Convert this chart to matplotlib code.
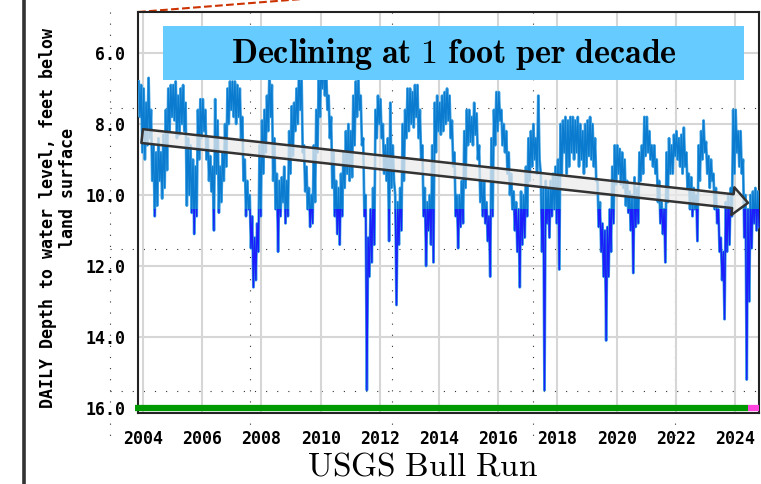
import matplotlib
matplotlib.use("Agg")
import matplotlib.pyplot as plt
import numpy as np
from matplotlib.patches import Rectangle, FancyArrowPatch

plt.rcParams["mathtext.fontset"] = "cm"
plt.rcParams["font.family"] = ["DejaVu Sans Mono"]
plt.rcParams["font.weight"] = "bold"

# depth to water (ft below land surface): shallowest / deepest reading in each month
hi_2003 = [6.8, 6.9]  # Nov-Dec only
lo_2003 = [7.8, 8.8]
hi_2004 = [7.0, 7.4, 6.7, 7.6, 8.6, 8.8, 8.4, 8.8, 8.3, 7.6, 7.0, 6.9]
lo_2004 = [9.0, 8.6, 8.4, 9.6, 10.6, 10.3, 9.6, 10.1, 9.8, 9.3, 8.2, 7.8]
hi_2005 = [6.9, 6.8, 7.2, 7.0, 6.9, 7.4, 8.4, 8.6, 9.0, 9.2, 7.6, 7.3]
lo_2005 = [7.9, 8.4, 8.3, 8.0, 8.2, 10.3, 10.0, 10.5, 11.1, 10.6, 9.0, 8.4]
hi_2006 = [7.3, 7.6, 8.4, 8.9, 9.2, 7.3, 7.9, 9.2, 8.8, 8.0, 7.0, 6.8]
lo_2006 = [8.2, 9.0, 9.6, 9.9, 11.0, 9.4, 10.5, 10.2, 9.6, 9.2, 8.0, 7.6]
hi_2007 = [6.8, 6.8, 6.9, 7.0, 7.8, 9.0, 9.6, 10.0, 10.6, 11.2, 10.8, 8.6]
lo_2007 = [7.8, 8.0, 7.8, 8.4, 9.6, 10.6, 10.4, 11.5, 12.6, 12.4, 11.6, 10.6]
hi_2008 = [7.9, 7.6, 7.2, 6.5, 6.9, 8.4, 9.4, 9.6, 9.5, 9.2, 9.6, 8.2]
lo_2008 = [9.4, 8.8, 8.2, 7.8, 9.6, 10.4, 11.6, 10.6, 10.2, 10.8, 10.6, 9.4]
hi_2009 = [7.5, 7.4, 7.0, 6.4, 6.6, 8.6, 9.2, 9.8, 10.0, 8.6, 7.6, 6.6]
lo_2009 = [8.9, 8.2, 8.0, 7.6, 8.8, 9.9, 10.4, 10.9, 10.8, 10.2, 8.8, 7.8]
hi_2010 = [6.2, 6.2, 6.5, 7.2, 7.8, 8.8, 9.6, 9.8, 9.4, 8.8, 8.2, 8.0]
lo_2010 = [7.0, 7.2, 7.6, 8.4, 9.8, 10.6, 11.1, 11.4, 10.6, 9.8, 9.4, 9.6]
hi_2011 = [8.2, 7.2, 6.8, 6.7, 7.2, 8.4, 10.0, 11.2, 10.4, 9.8, 7.6, 7.2]
lo_2011 = [9.5, 8.6, 7.8, 7.6, 8.6, 10.6, 15.5, 12.3, 11.9, 11.4, 8.4, 8.0]
hi_2012 = [7.3, 8.0, 8.6, 8.4, 7.4, 8.6, 10.0, 10.2, 9.8, 8.0, 7.6, 7.0]
lo_2012 = [8.4, 9.4, 9.6, 11.3, 9.8, 9.6, 13.1, 11.4, 11.0, 9.6, 8.4, 8.2]
hi_2013 = [7.0, 7.1, 6.9, 6.9, 7.6, 8.6, 9.8, 10.2, 10.0, 8.6, 7.4, 7.2]
lo_2013 = [8.0, 8.1, 7.8, 8.4, 9.0, 10.6, 12.0, 11.0, 11.4, 11.9, 8.8, 8.2]
hi_2014 = [7.4, 7.2, 7.1, 7.0, 7.2, 7.9, 8.8, 10.0, 10.0, 9.6, 8.2, 7.6]
lo_2014 = [8.3, 8.2, 8.0, 7.9, 8.4, 9.2, 10.6, 11.5, 10.9, 10.8, 9.8, 8.6]
hi_2015 = [7.6, 7.8, 7.4, 7.7, 8.6, 9.6, 9.6, 10.2, 10.6, 8.4, 7.6, 7.1]
lo_2015 = [8.5, 8.6, 8.3, 9.0, 10.2, 10.6, 10.8, 11.3, 12.3, 10.6, 8.6, 8.2]
hi_2016 = [7.1, 7.6, 8.0, 8.2, 8.8, 9.4, 9.9, 10.2, 10.4, 9.9, 10.0, 9.2]
lo_2016 = [7.9, 8.6, 8.8, 9.4, 10.0, 10.4, 11.0, 11.6, 12.6, 11.4, 11.2, 10.6]
hi_2017 = [8.4, 8.2, 8.0, 8.4, 7.2, 9.4, 9.8, 9.6, 9.8, 9.6, 9.4, 9.2]
lo_2017 = [9.6, 9.2, 9.0, 9.4, 9.0, 11.6, 15.5, 10.8, 11.2, 10.6, 10.4, 10.8]
hi_2018 = [9.0, 8.0, 7.9, 7.8, 7.9, 7.8, 7.8, 7.9, 7.8, 8.0, 8.2, 8.0]
lo_2018 = [12.1, 9.4, 8.8, 9.4, 9.2, 8.8, 9.0, 8.8, 9.2, 9.0, 9.4, 9.2]
hi_2019 = [7.9, 7.8, 8.0, 8.4, 9.6, 10.2, 10.8, 11.0, 10.9, 10.4, 9.2, 8.6]
lo_2019 = [8.9, 9.0, 9.2, 9.6, 10.9, 11.6, 12.3, 14.1, 12.3, 11.6, 10.8, 9.7]
hi_2020 = [8.6, 8.7, 8.8, 9.0, 9.6, 9.9, 10.0, 9.5, 9.8, 8.8, 8.6, 7.8]
lo_2020 = [9.4, 9.7, 9.8, 10.3, 10.5, 11.0, 12.2, 10.9, 10.8, 9.6, 9.4, 8.9]
hi_2021 = [7.8, 8.2, 8.6, 8.6, 9.0, 9.6, 10.2, 10.4, 8.8, 8.4, 8.6, 8.3]
lo_2021 = [8.8, 9.0, 9.2, 9.4, 10.2, 10.8, 11.1, 11.9, 10.2, 9.4, 9.4, 8.9]
hi_2022 = [8.2, 8.4, 8.3, 8.1, 8.8, 9.4, 9.5, 9.8, 10.0, 8.6, 8.2, 7.9]
lo_2022 = [9.0, 9.2, 9.4, 9.2, 9.8, 10.4, 10.6, 10.4, 11.3, 9.6, 9.0, 8.8]
hi_2023 = [8.5, 8.9, 9.0, 9.4, 9.8, 10.4, 11.2, 11.6, 10.2, 10.0, 9.8, 7.6]
lo_2023 = [9.4, 9.8, 9.6, 10.4, 10.8, 11.6, 12.4, 13.5, 11.6, 11.4, 10.6, 9.4]
hi_2024 = [7.6, 8.2, 8.2, 9.0, 10.0, 10.4, 10.0, 9.9, 9.8, 9.9]  # Jan-Oct
lo_2024 = [8.8, 9.2, 9.4, 11.2, 15.2, 13.0, 11.5, 10.8, 11.0, 10.9]

years = list(range(2003, 2025))
hi_by_year = [hi_2003, hi_2004, hi_2005, hi_2006, hi_2007, hi_2008, hi_2009, hi_2010,
              hi_2011, hi_2012, hi_2013, hi_2014, hi_2015, hi_2016, hi_2017, hi_2018,
              hi_2019, hi_2020, hi_2021, hi_2022, hi_2023, hi_2024]
lo_by_year = [lo_2003, lo_2004, lo_2005, lo_2006, lo_2007, lo_2008, lo_2009, lo_2010,
              lo_2011, lo_2012, lo_2013, lo_2014, lo_2015, lo_2016, lo_2017, lo_2018,
              lo_2019, lo_2020, lo_2021, lo_2022, lo_2023, lo_2024]

# trend arrow end points (year, depth)
trend_years = [2003.97, 2024.44]
trend_depths = [8.34, 10.22]
provisional_from = 2024.44

x_ticks = list(range(2004, 2025, 2))
y_ticks = [6, 8, 10, 12, 14, 16]

# dotted grid left over from an overlapping screenshot (pixel positions)
overlay_grid_x = [110, 250, 392, 533, 675]
overlay_grid_y = [108, 249, 391]

# assemble the series: shallow then deep reading within each month
t, d = [], []
for yr, his, los in zip(years, hi_by_year, lo_by_year):
    first = 12 - len(his) if yr == 2003 else 0
    for k, (h, l) in enumerate(zip(his, los)):
        m = first + k
        t += [yr + (m + 0.25) / 12, yr + (m + 0.75) / 12]
        d += [h, l]
t = np.array(t)
d = np.array(d)

W, H = 761, 484
fig = plt.figure(figsize=(W / 100, H / 100), dpi=100)

# background layer in pixel coordinates
bg = fig.add_axes([0, 0, 1, 1], zorder=0)
bg.set_xlim(0, W)
bg.set_ylim(H, 0)
bg.axis("off")
bg.vlines(overlay_grid_x, 12, 440, colors="#333333", linestyles=(0, (1, 9)), lw=0.8)
bg.hlines(overlay_grid_y, 110, 760, colors="#333333", linestyles=(0, (1, 9)), lw=0.8)
bg.plot([138, 330], [12, -3.2], color="#cc3300", ls="--", lw=1.5)
bg.vlines([24], 0, H, colors="#333333", lw=2.6)

ax = fig.add_axes([138 / W, 1 - 413 / H, (759 - 138) / W, (413 - 12) / H], zorder=1)
ax.set_facecolor("none")
ax.set_xlim(2003.83, 2024.81)
ax.set_ylim(16.14, 4.845)

ax.grid(True, color="#d6d6d6", lw=1.5)
ax.set_axisbelow(True)
ax.set_xticks(x_ticks)
ax.set_xticklabels([str(x) for x in x_ticks])
ax.set_yticks(y_ticks)
ax.set_yticklabels([f"{y:.1f}" for y in y_ticks])
ax.tick_params(length=0, labelsize=12)
ax.tick_params(axis="y", pad=9)
ax.tick_params(axis="x", pad=12)
for s in ax.spines.values():
    s.set_color("#222222")
    s.set_linewidth(1.5)

# water level line; deeper readings drawn with a thin dark-blue stroke
ax.plot(t, d, color="#4aa8e6", lw=2.0, zorder=3)
ax.plot(t, d, color="#0b7bcf", lw=1.0, zorder=4)
deep, = ax.plot(t, d, color="#1c1cff", lw=0.9, zorder=5)
clip = Rectangle((2003, 10.4), 30, 10, transform=ax.transData, visible=False)
ax.add_patch(clip)
deep.set_clip_path(clip)

# approval status bar along the bottom
ax.plot([ax.get_xlim()[0] - 0.1, provisional_from], [16.0, 16.0], color="#009900",
        lw=4.5, solid_capstyle="butt", clip_on=False, zorder=6)
ax.plot([provisional_from, ax.get_xlim()[1]], [16.0, 16.0], color="#ff44dd",
        lw=4.5, solid_capstyle="butt", clip_on=False, zorder=6)

# trend arrow
arrow = FancyArrowPatch((trend_years[0], trend_depths[0]), (trend_years[1], trend_depths[1]),
                        arrowstyle="simple,head_length=11,head_width=20,tail_width=10",
                        mutation_scale=1, shrinkA=0, shrinkB=0,
                        fc=(0.92, 0.92, 0.92, 0.75), ec="#333333", lw=1.8, zorder=7)
ax.add_patch(arrow)

# headline box
ax.add_patch(Rectangle((2004.68, 5.24), 19.62, 1.52, fc="#66ccff", ec="none", zorder=8))
ax.text(2014.49, 6.02, r"$\mathbf{Declining\ at\ 1\ foot\ per\ decade}$",
        ha="center", va="center", fontsize=24.5, color="black", zorder=9)

# axis label (two lines)
fig.text(48 / W, 1 - 218 / H, "DAILY Depth to water level, feet below",
         rotation=90, ha="center", va="center", fontsize=12)
fig.text(68 / W, 1 - 188 / H, "land surface",
         rotation=90, ha="center", va="center", fontsize=12)

# caption
fig.text(423 / W, 1 - 475 / H, r"$\mathrm{USGS\ Bull\ Run}$",
         ha="center", va="baseline", fontsize=24)

fig.savefig("out.png", dpi=100)
